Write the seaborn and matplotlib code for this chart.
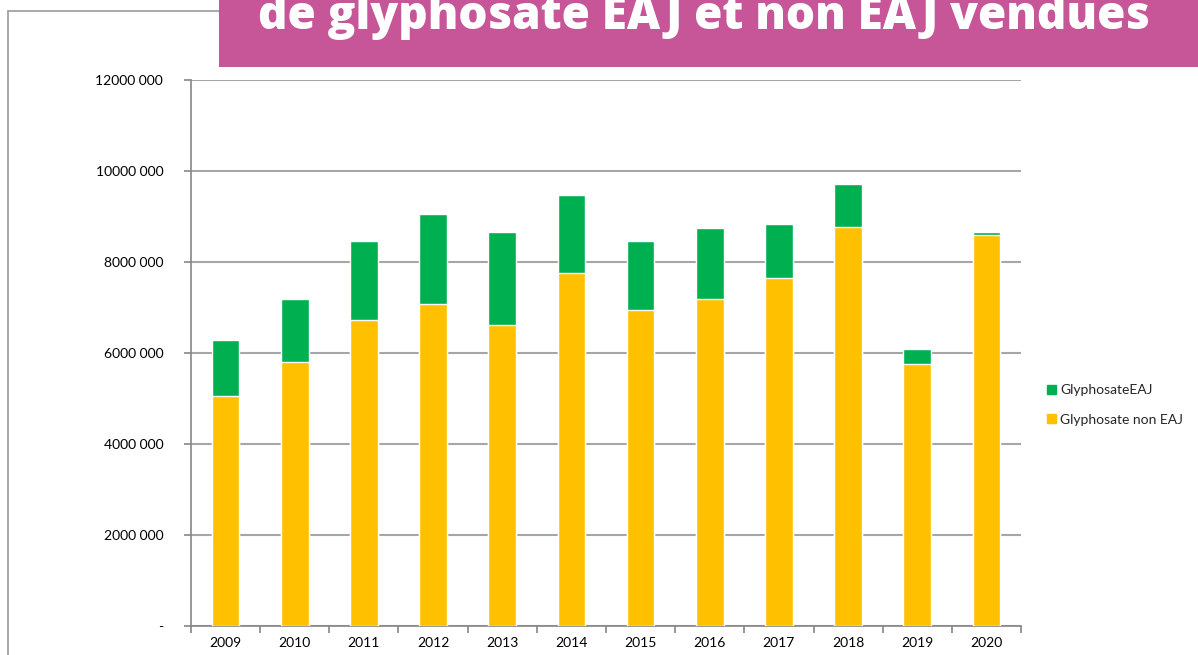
import numpy as np
import pandas as pd
import matplotlib
matplotlib.use('Agg')
import matplotlib.pyplot as plt
from matplotlib.patches import Patch, Rectangle
from matplotlib.lines import Line2D
import seaborn as sns

# values
years = ['2009', '2010', '2011', '2012', '2013', '2014',
         '2015', '2016', '2017', '2018', '2019', '2020']
non_eaj = [5.05, 5.80, 6.73, 7.07, 6.62, 7.76, 6.94, 7.19, 7.64, 8.78, 5.76, 8.60]
eaj = [1.24, 1.38, 1.73, 1.99, 2.05, 1.72, 1.53, 1.56, 1.20, 0.94, 0.33, 0.05]
y_ticks = [0, 2, 4, 6, 8, 10, 12]
y_labels = ['-', '2000 000', '4000 000', '6000 000', '8000 000', '10000 000', '12000 000']
title = 'de glyphosate EAJ et non EAJ vendues'

green = '#00B050'
yellow = '#FFC000'
grey = '#A6A6A6'

df = pd.DataFrame({
    'annee': years,
    'non_eaj': np.array(non_eaj) * 1e6,
    'total': (np.array(non_eaj) + np.array(eaj)) * 1e6,
})

sns.set_style('white')
plt.rcParams['font.family'] = ['Lato', 'DejaVu Sans']

W, H = 1198, 655
fig = plt.figure(figsize=(W / 100, H / 100), dpi=100)
ax = fig.add_axes([191 / W, 1 - 626 / H, 830 / W, 546 / H])

sns.barplot(data=df, x='annee', y='total', color=green, width=0.4,
            saturation=1, ax=ax, zorder=2)
sns.barplot(data=df, x='annee', y='non_eaj', color=yellow, width=0.4,
            saturation=1, ax=ax, zorder=3)

ax.set_xlim(-0.5, len(years) - 0.5)
ax.set_ylim(0, 12e6)
ax.set_yticks([v * 1e6 for v in y_ticks])
ax.set_yticklabels(y_labels)
ax.set_xlabel('')
ax.set_ylabel('')
ax.yaxis.grid(True, color=grey, linewidth=1.5, zorder=0)
ax.set_axisbelow(True)

for side in ['top', 'right']:
    ax.spines[side].set_visible(False)
for side in ['left', 'bottom']:
    ax.spines[side].set_color('#868686')
    ax.spines[side].set_linewidth(1.2)

# x ticks sit between categories, labels in the middle
ax.set_xticks(np.arange(len(years) + 1) - 0.5, minor=False)
ax.set_xticklabels([''] * (len(years) + 1))
ax.set_xticks(np.arange(len(years)), minor=True)
ax.set_xticklabels(years, minor=True)
ax.tick_params(axis='x', which='major', length=5, color='#868686', width=1.2, direction='out')
ax.tick_params(axis='x', which='minor', length=0, pad=8, labelsize=10, labelcolor='#000000')
ax.tick_params(axis='y', length=5, color='#868686', width=1.2, direction='out',
               pad=15, labelsize=10, labelcolor='#000000')
ax.tick_params(left=True, bottom=True)

handles = [Patch(color=green, label='GlyphosateEAJ'),
           Patch(color=yellow, label='Glyphosate non EAJ')]
ax.legend(handles=handles, loc='center left', bbox_to_anchor=(1047 / W, 1 - 405 / H),
          bbox_transform=fig.transFigure, frameon=False, fontsize=10,
          handlelength=0.65, handleheight=0.65, handletextpad=0.3, labelspacing=1.25,
          borderaxespad=0, borderpad=0)

# outer frame of the slide
fig.add_artist(Line2D([8 / W, 8 / W], [0, 1 - 11 / H], transform=fig.transFigure,
                      color='#9B9B9B', linewidth=1.2))
fig.add_artist(Line2D([8 / W, 219 / W], [1 - 11 / H, 1 - 11 / H], transform=fig.transFigure,
                      color='#9B9B9B', linewidth=1.2))

# pink banner with the title, its top cut off by the page edge as in the slide
fig.add_artist(Rectangle((219 / W, 1 - 67 / H), 1 - 219 / W, 67 / H,
                         transform=fig.transFigure, facecolor='#C65698',
                         edgecolor='none', zorder=5))
fig.text(704 / W, 1 - 29 / H, title, ha='center', va='baseline', color='white',
         fontsize=33, fontweight='heavy', family=['Open Sans', 'DejaVu Sans'], zorder=6)

fig.savefig('out.png', dpi=100)
